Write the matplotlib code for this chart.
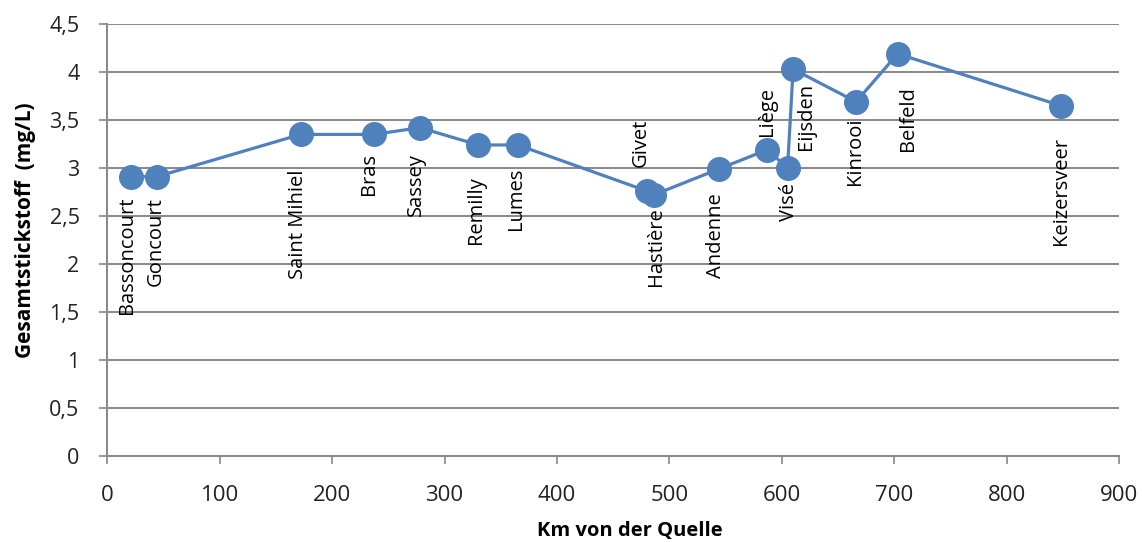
import matplotlib
matplotlib.use("Agg")
from matplotlib import pyplot as plt

plt.rcParams['font.family'] = ['Open Sans', 'DejaVu Sans']

# Messstellen entlang der Maas
stations = ['Bassoncourt', 'Goncourt', 'Saint Mihiel', 'Bras', 'Sassey', 'Remilly', 'Lumes',
            'Givet', 'Hastière', 'Andenne', 'Liège', 'Visé', 'Eijsden', 'Kinrooi', 'Belfeld',
            'Keizersveer']
km = [21, 44, 172, 237, 278, 330, 365, 480, 486, 544, 587, 605, 610, 666, 703, 848]
total_n = [2.91, 2.91, 3.35, 3.35, 3.42, 3.24, 3.24, 2.76, 2.72, 2.99, 3.19, 3.0, 4.03,
           3.69, 4.19, 3.65]

# label offsets in pixels (dx, dy); positive dy puts the label above the point
label_offsets = [(-4, -20), (-1, -20), (-3, -35), (-5, -19), (-4, -25), (-2, -31), (-2, -23),
                 (-6, 24), (2, -12), (-3, -24), (0, 14), (1, -15), (13, -14), (-1, -16),
                 (10, -32), (0, -31)]

x_ticks = [0, 100, 200, 300, 400, 500, 600, 700, 800, 900]
y_ticks = [0, 0.5, 1, 1.5, 2, 2.5, 3, 3.5, 4, 4.5]
y_tick_labels = ['0', '0,5', '1', '1,5', '2', '2,5', '3', '3,5', '4', '4,5']

blue = '#4F81BD'
grid_gray = '#888888'

fig = plt.figure(figsize=(11.42, 5.42), dpi=100)
ax = fig.add_axes([0.094, 0.1587, 0.886, 0.797])

ax.plot(km, total_n, color=blue, lw=2.3, marker='o', markersize=17, zorder=3)

for name, x, y, (dx, dy) in zip(stations, km, total_n, label_offsets):
    ax.annotate(name, (x, y), xytext=(dx, dy), textcoords='offset pixels',
                rotation=90, ha='center', va='bottom' if dy > 0 else 'top',
                fontsize=14.5, color='black', zorder=4)

ax.set_xlim(0, 900)
ax.set_ylim(0, 4.5)
ax.set_xticks(x_ticks)
ax.set_yticks(y_ticks)
ax.set_yticklabels(y_tick_labels)

ax.grid(axis='y', color=grid_gray, lw=1.4)
ax.set_axisbelow(True)
for side in ['top', 'right']:
    ax.spines[side].set_visible(False)
for side in ['left', 'bottom']:
    ax.spines[side].set_color(grid_gray)
    ax.spines[side].set_linewidth(1.4)

ax.tick_params(axis='both', direction='out', length=6, width=1.2, color=grid_gray,
               labelcolor='#222222')
ax.tick_params(axis='x', pad=15, labelsize=16)
ax.tick_params(axis='y', pad=14, labelsize=15.5)

ax.set_xlabel('Km von der Quelle', fontsize=14.5, fontweight='bold')
ax.set_ylabel('Gesamtstickstoff  (mg/L)', fontsize=15, fontweight='bold')
ax.xaxis.set_label_coords(0.516, -0.150)
ax.yaxis.set_label_coords(-0.0707, 0.523)

fig.savefig('out.png', dpi=100)
